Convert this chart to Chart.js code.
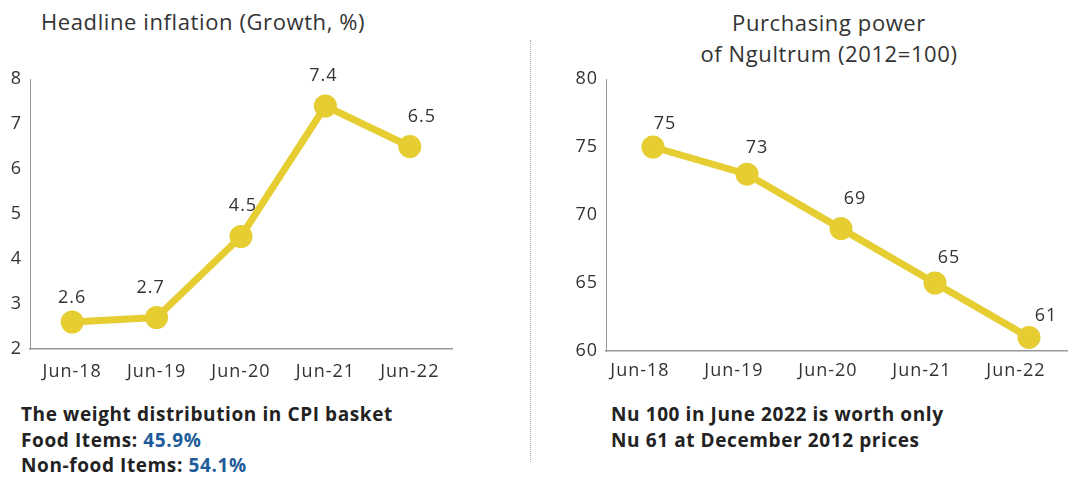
<!DOCTYPE html>
<html><head><meta charset="utf-8">
<script src="https://cdn.jsdelivr.net/npm/chart.js@4/dist/chart.umd.min.js"></script>
<style>
html,body{margin:0;padding:0;background:#fff;overflow:hidden;width:1068px;height:478px;}
body{position:relative;font-family:"Open Sans",sans-serif;color:#333;}
.t{position:absolute;white-space:nowrap;}
.title{font-size:22px;color:#333;letter-spacing:0.6px;}
.note{font-size:19px;font-weight:700;color:#222;line-height:25.5px;letter-spacing:0.6px;}
.blue{color:#1d5c99;}
.box{position:absolute;}
</style></head><body>
<div class="t title" style="left:41px;top:6px;">Headline inflation (Growth, %)</div>
<div class="t title" style="left:614px;top:7px;width:430px;text-align:center;line-height:31px;">Purchasing power<br>of Ngultrum (2012=100)</div>
<div style="position:absolute;left:530px;top:40px;height:422px;border-left:1px dotted #aaa;"></div>
<div class="box" style="left:0;top:60px;width:460px;height:340px;"><canvas id="c1"></canvas></div>
<div class="box" style="left:560px;top:60px;width:516px;height:340px;"><canvas id="c2"></canvas></div>
<div class="t note" style="left:21px;top:402px;">The weight distribution in CPI basket<br>Food Items: <span class="blue">45.9%</span><br>Non-food Items: <span class="blue">54.1%</span></div>
<div class="t note" style="left:611px;top:402px;">Nu 100 in June 2022 is worth only<br>Nu 61 at December 2012 prices</div>
<script>
const categories = ["Jun-18","Jun-19","Jun-20","Jun-21","Jun-22"];
const inflationValues = [2.6, 2.7, 4.5, 7.4, 6.5];
const inflationLabels = ["2.6","2.7","4.5","7.4","6.5"];
const powerValues = [75, 73, 69, 65, 61];
const powerLabels = ["75","73","69","65","61"];

const YELLOW = "#e6cd32";
const FONT = "'Open Sans', sans-serif";

const spacing = {
  id: "spacing",
  beforeDraw(chart) { chart.ctx.letterSpacing = "1px"; }
};

const valueLabels = {
  id: "valueLabels",
  afterDatasetsDraw(chart, args, opts) {
    const ctx = chart.ctx;
    const meta = chart.getDatasetMeta(0);
    ctx.save();
    ctx.letterSpacing = "1px";
    ctx.font = "18px " + FONT;
    ctx.fillStyle = "#333";
    ctx.textAlign = "center";
    ctx.textBaseline = "middle";
    meta.data.forEach((pt, i) => {
      const dx = opts.dx[i] || 0, dy = opts.dy[i] || 0;
      ctx.fillText(opts.labels[i], pt.x + dx, pt.y + dy);
    });
    ctx.restore();
  }
};

function makeChart(id, values, labels, min, max, step, yWidth, xPad, pad, lbl, labelOffset) {
  return new Chart(document.getElementById(id), {
    type: "line",
    data: { labels: categories, datasets: [{
      data: values, borderColor: YELLOW, backgroundColor: YELLOW,
      borderWidth: 7, pointRadius: 8, pointHoverRadius: 8, tension: 0, clip: false
    }]},
    options: {
      responsive: true, maintainAspectRatio: false, animation: false,
      layout: { padding: pad, autoPadding: false },
      plugins: { legend: {display:false}, tooltip: {enabled:false},
        valueLabels: { labels: labels, dx: lbl.dx, dy: lbl.dy } },
      scales: {
        x: { offset: true, grid: {display:false},
             border: {display:true, color:"#999", width:1.5},
             ticks: {color:"#333", font:{family:FONT, size:18}, padding:xPad, maxRotation:0, autoSkip:false, labelOffset: labelOffset},
             afterFit(s){ s.height = 45; } },
        y: { min: min, max: max, grid: {display:false},
             border: {display:true, color:"#999", width:1},
             ticks: {stepSize: step, color:"#333", font:{family:FONT, size:18}, padding:0},
             afterFit(s){ s.width = yWidth; } }
      }
    },
    plugins: [spacing, valueLabels]
  });
}

makeChart("c1", inflationValues, inflationLabels, 2, 8, 1, 30, 4,
  {top:19, right:8, left:0, bottom:6},
  {dx:[0,-6,2,-2,12], dy:[-24,-30,-31,-30,-30]}, 0);
makeChart("c2", powerValues, powerLabels, 60, 80, 5, 46, 1,
  {top:19, right:0, left:0, bottom:4},
  {dx:[12,10,14,14,17], dy:[-23,-26,-30,-25,-22]}, -13);
</script>
</body></html>
